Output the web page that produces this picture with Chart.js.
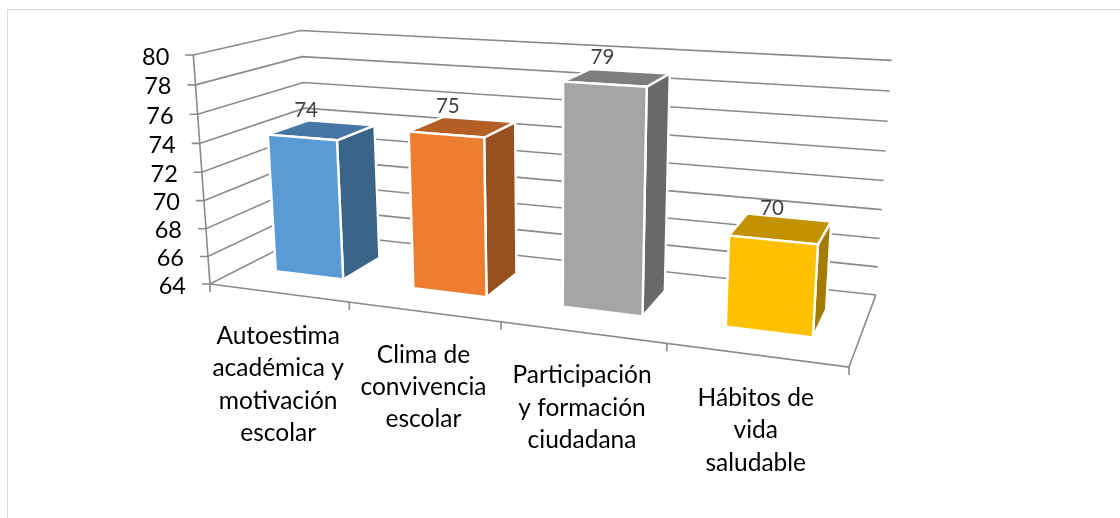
<!DOCTYPE html>
<html>
<head>
<meta charset="utf-8">
<title>Chart</title>
<script src="https://cdn.jsdelivr.net/npm/chart.js@4"></script>
<style>
    html, body { margin: 0; padding: 0; background: #fff; overflow: hidden; }
    #wrap { position: relative; width: 1120px; height: 518px; }
    #frame { position: absolute; left: 7px; top: 9px; right: 0; bottom: 0; border-left: 1px solid #d9d9d9; border-top: 1px solid #d9d9d9; }
    canvas { position: absolute; left: 0; top: 0; }
</style>
</head>
<body>
<div id="wrap">
    <div id="frame"></div>
    <canvas id="chart" width="1120" height="518"></canvas>
</div>
<script>
    var categories = [
        ["Autoestima", "académica y", "motivación", "escolar"],
        ["Clima de", "convivencia", "escolar"],
        ["Participación", "y formación", "ciudadana"],
        ["Hábitos de", "vida", "saludable"]
    ];
    var values = [74, 75, 79, 70];
    var frontColors = ["#5b9bd5", "#ed7d31", "#a5a5a5", "#ffc000"];
    var topColors = ["#4676a3", "#b45f26", "#7e7e7e", "#c29200"];
    var sideColors = ["#3b6489", "#97501f", "#696969", "#a37b00"];

    var axisMin = 64;
    var axisMax = 80;
    var axisStep = 2;

    // 3D box the chart sits in: corners on screen + perspective weights
    var box = {
        origin: [210, 284],
        right: [849, 367],
        up: [193.3, 55],
        back: [311, 232.5],
        persp: [-0.164, -0.046, 0.139]
    };
    var barDepth = [0.3, 0.7];
    var labelShift = [-16, -15, -15, -9];

    // u = along categories, v = along values, w = depth, all 0..1
    function project(u, v, w) {
        var p = box.persp;
        var d = 1 + p[0] * u + p[1] * v + p[2] * w;
        var out = [];
        for (var i = 0; i < 2; i++) {
            var a = box.right[i] * (1 + p[0]) - box.origin[i];
            var b = box.up[i] * (1 + p[1]) - box.origin[i];
            var c = box.back[i] * (1 + p[2]) - box.origin[i];
            out.push((box.origin[i] + a * u + b * v + c * w) / d);
        }
        return out;
    }

    function polyLine(ctx, pts, close) {
        ctx.beginPath();
        ctx.moveTo(pts[0][0], pts[0][1]);
        for (var i = 1; i < pts.length; i++) {
            ctx.lineTo(pts[i][0], pts[i][1]);
        }
        if (close) ctx.closePath();
    }

    function face(ctx, pts, color) {
        polyLine(ctx, pts, true);
        ctx.fillStyle = color;
        ctx.fill();
        ctx.stroke();
    }

    var perspectivePlugin = {
        id: "perspective",
        beforeDatasetsDraw: function (chart) {
            var ctx = chart.ctx;
            var area = chart.chartArea;
            var xs = chart.scales.x;
            var ys = chart.scales.y;

            function toU(px) { return (px - area.left) / area.width; }
            function toV(px) { return (area.bottom - px) / area.height; }

            ctx.save();

            // Walls and floor
            ctx.strokeStyle = "#8a8a8a";
            ctx.lineWidth = 1.6;
            ctx.font = "23.5px Lato";
            ctx.fillStyle = "#000";
            ctx.textAlign = "right";
            ctx.textBaseline = "middle";
            ys.ticks.forEach(function (tick) {
                var v = toV(ys.getPixelForValue(tick.value));
                var front = project(0, v, 0);
                polyLine(ctx, [[front[0] - 8, front[1]], front, project(0, v, 1), project(1, v, 1)]);
                ctx.stroke();
                ctx.fillText(tick.label, front[0] - 24, front[1] + 2);
            });
            polyLine(ctx, [project(0, 0, 0), project(0, 1, 0)]);
            ctx.stroke();
            polyLine(ctx, [project(0, 0, 0), project(1, 0, 0), project(1, 0, 1)]);
            ctx.stroke();

            // Category ticks and labels
            ctx.textAlign = "center";
            ctx.font = "24.5px Lato";
            for (var t = 0; t <= xs.ticks.length; t++) {
                var foot = project(t / xs.ticks.length, 0, 0);
                polyLine(ctx, [foot, [foot[0], foot[1] + 8]]);
                ctx.stroke();
            }
            xs.ticks.forEach(function (tick, i) {
                var p = project(toU(xs.getPixelForTick(i)), 0, 0);
                tick.label.forEach(function (line, n) {
                    ctx.fillText(line, p[0], p[1] + 43 + n * 32.4);
                });
            });

            // Bars, from the elements Chart.js laid out
            var meta = chart.getDatasetMeta(0);
            var ds = chart.data.datasets[0];
            var w0 = barDepth[0], w1 = barDepth[1];
            ctx.strokeStyle = "#fff";
            ctx.lineWidth = 2.4;
            ctx.lineJoin = "round";
            meta.data.forEach(function (bar, i) {
                var u0 = toU(bar.x - bar.width / 2);
                var u1 = toU(bar.x + bar.width / 2);
                var v0 = toV(bar.base);
                var v1 = toV(bar.y);
                face(ctx, [project(u1, v0, w0), project(u1, v0, w1), project(u1, v1, w1), project(u1, v1, w0)], ds.sideColors[i]);
                face(ctx, [project(u0, v1, w0), project(u1, v1, w0), project(u1, v1, w1), project(u0, v1, w1)], ds.topColors[i]);
                face(ctx, [project(u0, v0, w0), project(u1, v0, w0), project(u1, v1, w0), project(u0, v1, w0)], ds.backgroundColor[i]);
            });

            // Value labels
            ctx.fillStyle = "#404040";
            ctx.font = "20.5px Lato";
            meta.data.forEach(function (bar, i) {
                var p = project(toU(bar.x), toV(bar.y), (w0 + w1) / 2);
                ctx.fillText(String(ds.data[i]), p[0] + labelShift[i], p[1] - 20);
            });

            ctx.restore();
            return false;
        }
    };

    new Chart(document.getElementById("chart").getContext("2d"), {
        type: "bar",
        data: {
            labels: categories,
            datasets: [{
                data: values,
                base: axisMin,
                backgroundColor: frontColors,
                topColors: topColors,
                sideColors: sideColors,
                categoryPercentage: 1,
                barPercentage: 0.5
            }]
        },
        options: {
            responsive: false,
            animation: false,
            events: [],
            plugins: {
                legend: { display: false },
                tooltip: { enabled: false }
            },
            scales: {
                x: {
                    grid: { display: false },
                    border: { display: false },
                    ticks: { display: false, autoSkip: false }
                },
                y: {
                    min: axisMin,
                    max: axisMax,
                    grid: { display: false },
                    border: { display: false },
                    ticks: { display: false, stepSize: axisStep }
                }
            }
        },
        plugins: [perspectivePlugin]
    });
</script>
</body>
</html>
